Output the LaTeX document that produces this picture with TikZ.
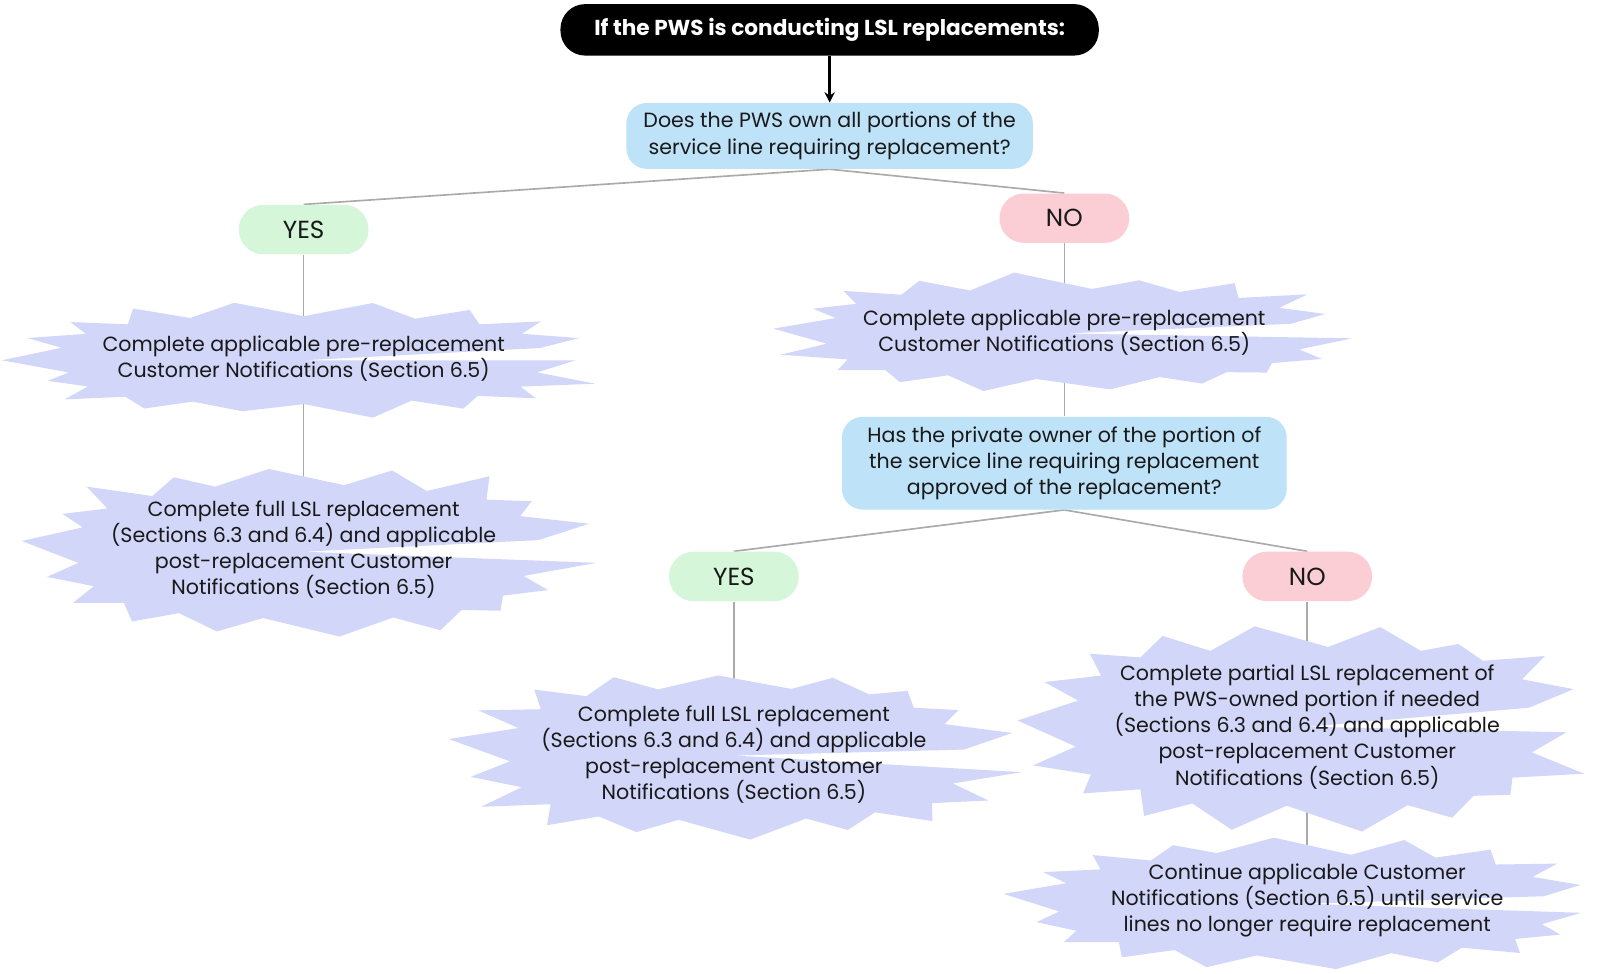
\documentclass[tikz,border=0pt]{standalone}
\usepackage{fontspec}
\setmainfont{Poppins}
\usetikzlibrary{arrows.meta}
\pgfdeclarelayer{bg}
\pgfdeclarelayer{mid}
\pgfsetlayers{bg,mid,main}
\definecolor{burstc}{RGB}{210,215,250}
\definecolor{qblue}{RGB}{190,226,248}
\definecolor{yesg}{RGB}{213,246,216}
\definecolor{nop}{RGB}{251,206,213}
\definecolor{lineg}{RGB}{170,170,170}
\definecolor{inkc}{RGB}{25,25,25}
% #1 cx, #2 cy, #3 rx, #4 ry, #5 points, #6 seed, #7 phase
\newcommand{\mkburst}[7]{%
\pgfmathsetseed{#6}%
\gdef\bpath{}%
\foreach \k in {1,...,#5}{%
  \pgfmathsetmacro\oa{#7+(\k-1)*360/#5}%
  \pgfmathsetmacro\ia{\oa+180/#5}%
  \pgfmathsetmacro\ff{0.87+0.13*rnd}%
  \pgfmathsetmacro\gg{0.96+0.06*rnd}%
  \pgfmathsetmacro\cc{cos(\oa)}\pgfmathsetmacro\ss{sin(\oa)}%
  \pgfmathsetmacro\ox{#1+#3*\ff*(\cc<0 ? -1 : 1)*exp(0.85*ln(abs(\cc)+0.0001))}%
  \pgfmathsetmacro\oy{#2+#4*\ff*(\ss<0 ? -1 : 1)*exp(0.85*ln(abs(\ss)+0.0001))}%
  \pgfmathsetmacro\cc{cos(\ia)}\pgfmathsetmacro\ss{sin(\ia)}%
  \pgfmathsetmacro\ix{#1+#3*0.78*\gg*(\cc<0 ? -1 : 1)*exp(0.72*ln(abs(\cc)+0.0001))}%
  \pgfmathsetmacro\iy{#2+#4*0.74*\gg*(\ss<0 ? -1 : 1)*exp(0.72*ln(abs(\ss)+0.0001))}%
  \xdef\bpath{\bpath -- (\ox,\oy) -- (\ix,\iy)}%
}%
\begin{pgfonlayer}{mid}
\fill[burstc] (#1,#2) \bpath -- cycle;
\end{pgfonlayer}}
\tikzset{
 txt/.style={align=center, font=\fontsize{10}{12.75}\selectfont, text=inkc, inner sep=0pt},
 pill/.style={rounded corners=11.9pt, minimum width=63pt, minimum height=24pt, inner sep=0pt, font=\fontsize{12}{13}\selectfont, text=inkc},
 qbox/.style={txt, rounded corners=10pt, fill=qblue},
 titlebox/.style={fill=black, text=white, rounded corners=12pt, minimum width=261.5pt, minimum height=25pt, inner sep=0pt, font=\bfseries\fontsize{10.5}{12}\selectfont},
 conn/.style={draw=lineg, line width=0.8pt},
 arr/.style={draw=black, line width=1.3pt, -{Stealth[length=5pt,width=5pt]}},
}
\begin{document}
\begin{tikzpicture}[x=0.5pt,y=-0.5pt]
\begin{pgfonlayer}{bg}
\fill[white] (0,0) rectangle (1568,946);
\end{pgfonlayer}
\useasboundingbox (0,0) rectangle (1568,946);
\node[titlebox] (title) at (806,29) {If the PWS is conducting LSL replacements:};
\node[qbox, minimum width=197.5pt, minimum height=32pt] (q1) at (806,132) {Does the PWS own all portions of the\\service line requiring replacement?};
\node[pill, fill=yesg] (yes1) at (295,223) {YES};
\node[pill, fill=nop] (no1) at (1034,212) {NO};
\node[txt] (s1) at (295,348) {Complete applicable pre-replacement\\Customer Notifications (Section 6.5)};
\node[txt] (s2) at (295,534) {Complete full LSL replacement\\(Sections 6.3 and 6.4) and applicable\\post-replacement Customer\\Notifications (Section 6.5)};
\node[txt] (s3) at (1034,323) {Complete applicable pre-replacement\\Customer Notifications (Section 6.5)};
\node[qbox, minimum width=216pt, minimum height=45pt] (q2) at (1034,450) {Has the private owner of the portion of\\the service line requiring replacement\\approved of the replacement?};
\node[pill, fill=yesg] (yes2) at (713,560) {YES};
\node[pill, fill=nop] (no2) at (1270,560) {NO};
\node[txt] (s4) at (713,733) {Complete full LSL replacement\\(Sections 6.3 and 6.4) and applicable\\post-replacement Customer\\Notifications (Section 6.5)};
\node[txt] (s5) at (1270,706) {Complete partial LSL replacement of\\the PWS-owned portion if needed\\(Sections 6.3 and 6.4) and applicable\\post-replacement Customer\\Notifications (Section 6.5)};
\node[txt] (s6) at (1270,875) {Continue applicable Customer\\Notifications (Section 6.5) until service\\lines no longer require replacement};
\mkburst{295}{350}{300}{57}{18}{3}{0}
\mkburst{295}{536}{290}{87}{18}{7}{5}
\mkburst{1034}{324}{293}{60}{18}{11}{3}
\mkburst{713}{734}{288}{87}{18}{17}{8}
\mkburst{1270}{706}{289}{106}{18}{23}{2}
\mkburst{1268}{878}{301}{67}{18}{29}{6}
\begin{pgfonlayer}{bg}
\draw[conn] (q1.south) -- (yes1.north);
\draw[conn] (q1.south) -- (no1.north);
\draw[conn] (yes1.south) -- (s1.center);
\draw[conn] (s1.center) -- (s2.center);
\draw[conn] (no1.south) -- (s3.center);
\draw[conn] (s3.center) -- (q2.north);
\draw[conn] (q2.south) -- (yes2.north);
\draw[conn] (q2.south) -- (no2.north);
\draw[conn] (yes2.south) -- (s4.center);
\draw[conn] (no2.south) -- (s5.center);
\draw[conn] (s5.center) -- (s6.center);
\end{pgfonlayer}
\draw[arr] (title.south) -- (q1.north);
\end{tikzpicture}
\end{document}
